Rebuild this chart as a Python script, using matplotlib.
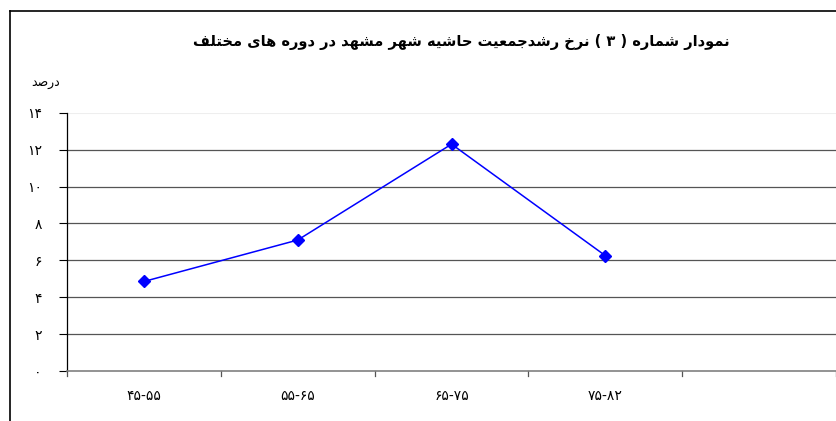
import matplotlib
matplotlib.use('Agg')
import matplotlib.pyplot as plt
from matplotlib.lines import Line2D

# دادهها
dore_ha = ['۴۵-۵۵', '۵۵-۶۵', '۶۵-۷۵', '۷۵-۸۲', '']
nerkh = [4.85, 7.1, 12.3, 6.25]
y_ticks = [0, 2, 4, 6, 8, 10, 12, 14]
y_labels = ['۰', '۲', '۴', '۶', '۸', '۱۰', '۱۲', '۱۴']

# shaping for Persian text (matplotlib has no bidi/shaping)
DUAL = {
    'ب': 'ﺏﺐﺑﺒ', 'ت': 'ﺕﺖﺗﺘ', 'ج': 'ﺝﺞﺟﺠ', 'ح': 'ﺡﺢﺣﺤ', 'خ': 'ﺥﺦﺧﺨ',
    'س': 'ﺱﺲﺳﺴ', 'ش': 'ﺵﺶﺷﺸ', 'ص': 'ﺹﺺﺻﺼ', 'ع': 'ﻉﻊﻋﻌ', 'ف': 'ﻑﻒﻓﻔ',
    'ل': 'ﻝﻞﻟﻠ', 'م': 'ﻡﻢﻣﻤ', 'ن': 'ﻥﻦﻧﻨ', 'ه': 'ﻩﻪﻫﻬ', 'ی': 'ﻯﻰﻳﻴ',
}
RIGHT = {'ا': 'ﺍﺎ', 'د': 'ﺩﺪ', 'ر': 'ﺭﺮ', 'و': 'ﻭﻮ', 'ز': 'ﺯﺰ'}


def shape_word(w):
    out = []
    for i, c in enumerate(w):
        prev = w[i - 1] if i > 0 else ''
        nxt = w[i + 1] if i < len(w) - 1 else ''
        p = prev in DUAL
        if c in DUAL:
            n = nxt in DUAL or nxt in RIGHT
            forms = DUAL[c]
            if p and n:
                out.append(forms[3])
            elif n:
                out.append(forms[2])
            elif p:
                out.append(forms[1])
            else:
                out.append(forms[0])
        elif c in RIGHT:
            out.append(RIGHT[c][1] if p else RIGHT[c][0])
        else:
            out.append(c)
    return ''.join(reversed(out))


def rtl(s):
    return ' '.join(shape_word(w) for w in reversed(s.split(' ')))


title = rtl('نرخ رشدجمعیت حاشیه شهر مشهد در دوره های مختلف') + ' ( ۳ ) ' + rtl('نمودار شماره')
y_title = rtl('درصد')

plt.rcParams['font.family'] = ['DejaVu Sans']

fig = plt.figure(figsize=(8.37, 4.21), dpi=100)
ax = fig.add_axes([0.080, 0.119, 0.919, 0.613])

x = list(range(len(nerkh)))
ax.plot(x, nerkh, color='#0000FF', lw=1.1, marker='D', ms=6, mfc='#0000FF', mec='#0000FF', zorder=3)

ax.set_xlim(-0.5, len(dore_ha) - 0.5)
ax.set_ylim(0, 14)
ax.set_yticks(y_ticks)
ax.set_yticklabels(y_labels, fontsize=10)
ax.set_xticks(range(len(dore_ha)))
ax.set_xticklabels(dore_ha, fontsize=10)
ax.tick_params(axis='x', length=0, pad=13)
ax.tick_params(axis='y', length=6, width=0.8, pad=12, color='black')

# گرید
for t in y_ticks[1:-1]:
    ax.axhline(t, color='#555555', lw=0.9, zorder=1)
ax.axhline(14, color='#eeeeee', lw=0.8, zorder=1)

# tick marks on category boundaries
for b in range(len(dore_ha) + 1):
    ax.plot([b - 0.5, b - 0.5], [0, -0.3], color='#555555', lw=0.9, clip_on=False)

for s in ['top', 'right']:
    ax.spines[s].set_visible(False)
ax.spines['left'].set_color('black')
ax.spines['left'].set_linewidth(0.9)
ax.spines['bottom'].set_color('#808080')
ax.spines['bottom'].set_linewidth(1.2)

fig.text(0.551, 0.90, title, fontsize=10.5, fontweight='bold', ha='center', va='center')
fig.text(0.054, 0.805, y_title, fontsize=9, ha='center', va='center')

# chart border
fig.add_artist(Line2D([0.012, 0.012], [0, 0.974], color='black', lw=1.2, transform=fig.transFigure))
fig.add_artist(Line2D([0.012, 1.0], [0.974, 0.974], color='black', lw=1.2, transform=fig.transFigure))

fig.savefig('out.png', dpi=100, facecolor='white')
